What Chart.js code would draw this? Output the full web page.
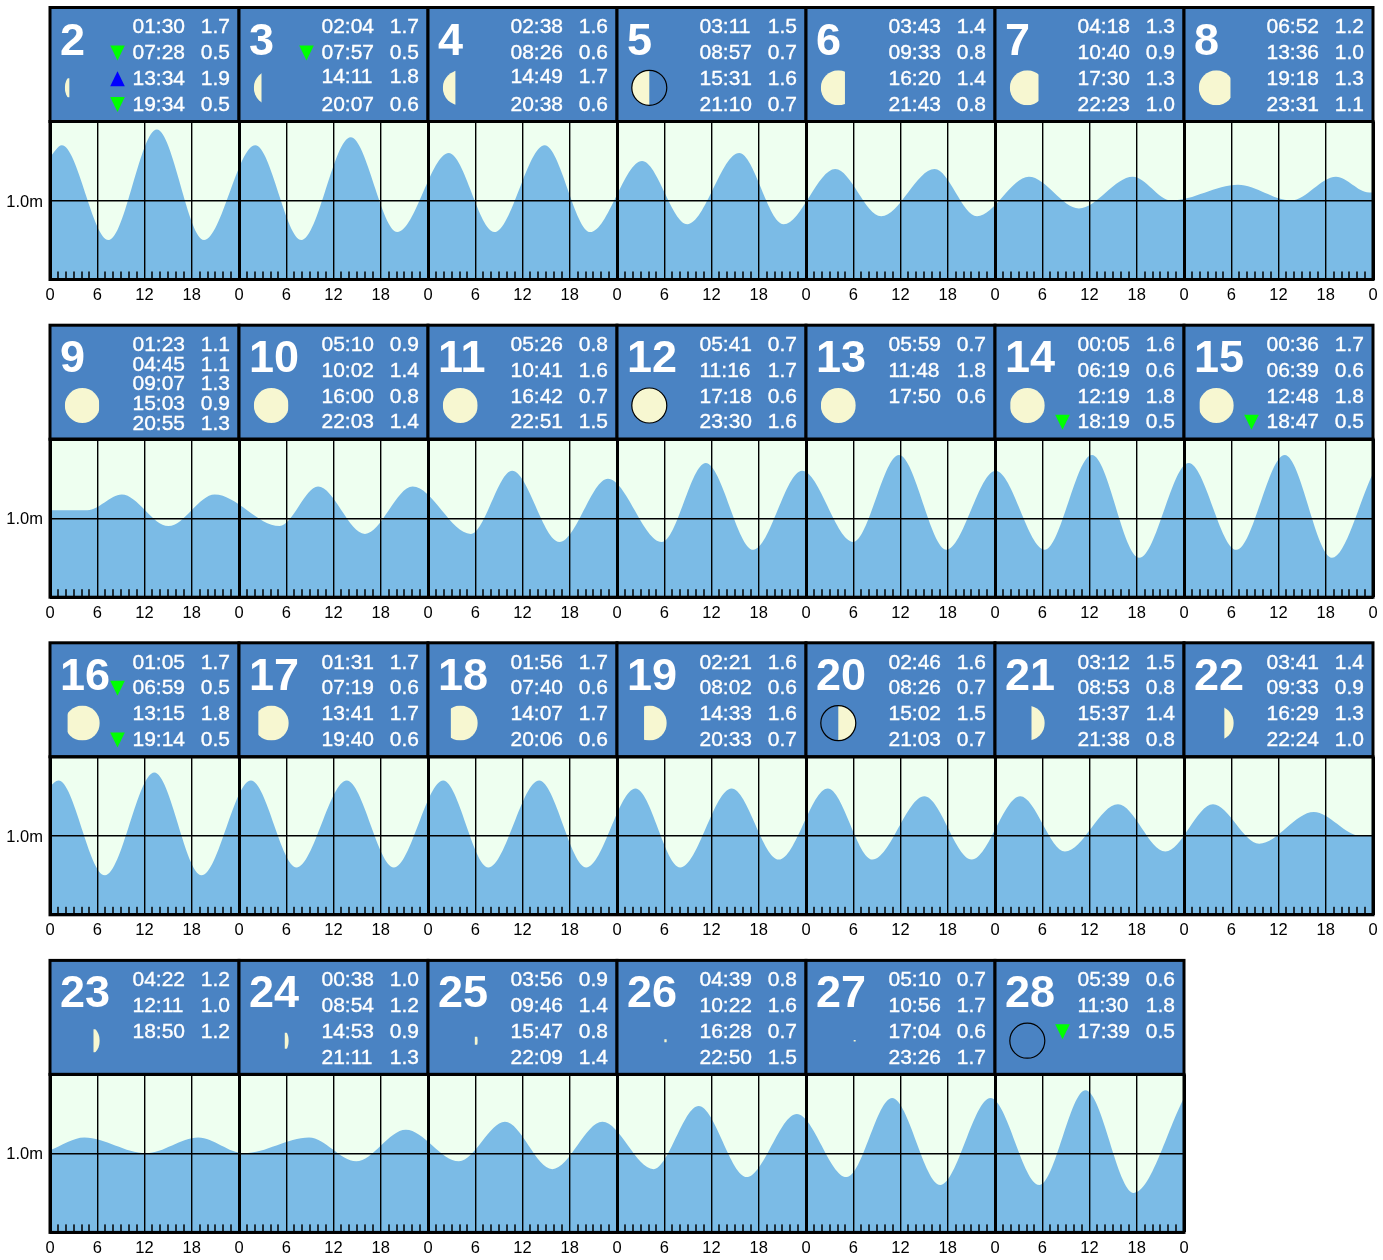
<!DOCTYPE html>
<html><head><meta charset="utf-8">
<script src="https://cdn.jsdelivr.net/npm/chart.js@4"></script>
<style>html,body{margin:0;padding:0;background:#fff}canvas{position:absolute;left:0}</style>
</head><body>
<script>
const dayNumbers=[2,3,4,5,6,7,8,9,10,11,12,13,14,15,16,17,18,19,20,21,22,23,24,25,26,27,28];
const tideTimes=[
["01:30","07:28","13:34","19:34"],["02:04","07:57","14:11","20:07"],["02:38","08:26","14:49","20:38"],
["03:11","08:57","15:31","21:10"],["03:43","09:33","16:20","21:43"],["04:18","10:40","17:30","22:23"],
["06:52","13:36","19:18","23:31"],["01:23","04:45","09:07","15:03","20:55"],["05:10","10:02","16:00","22:03"],
["05:26","10:41","16:42","22:51"],["05:41","11:16","17:18","23:30"],["05:59","11:48","17:50"],
["00:05","06:19","12:19","18:19"],["00:36","06:39","12:48","18:47"],["01:05","06:59","13:15","19:14"],
["01:31","07:19","13:41","19:40"],["01:56","07:40","14:07","20:06"],["02:21","08:02","14:33","20:33"],
["02:46","08:26","15:02","21:03"],["03:12","08:53","15:37","21:38"],["03:41","09:33","16:29","22:24"],
["04:22","12:11","18:50"],["00:38","08:54","14:53","21:11"],["03:56","09:46","15:47","22:09"],
["04:39","10:22","16:28","22:50"],["05:10","10:56","17:04","23:26"],["05:39","11:30","17:39"]];
const tideLevels=[
[1.7,0.5,1.9,0.5],[1.7,0.5,1.8,0.6],[1.6,0.6,1.7,0.6],[1.5,0.7,1.6,0.7],[1.4,0.8,1.4,0.8],[1.3,0.9,1.3,1.0],
[1.2,1.0,1.3,1.1],[1.1,1.1,1.3,0.9,1.3],[0.9,1.4,0.8,1.4],[0.8,1.6,0.7,1.5],[0.7,1.7,0.6,1.6],[0.7,1.8,0.6],
[1.6,0.6,1.8,0.5],[1.7,0.6,1.8,0.5],[1.7,0.5,1.8,0.5],[1.7,0.6,1.7,0.6],[1.7,0.6,1.7,0.6],[1.6,0.6,1.6,0.7],
[1.6,0.7,1.5,0.7],[1.5,0.8,1.4,0.8],[1.4,0.9,1.3,1.0],[1.2,1.0,1.2],[1.0,1.2,0.9,1.3],[0.9,1.4,0.8,1.4],
[0.8,1.6,0.7,1.5],[0.7,1.7,0.6,1.7],[0.6,1.8,0.5]];
const moonLit=[.13,.22,.36,.5,.69,.82,.905,.98,.985,.995,1,.995,.985,.975,.92,.87,.77,.65,.5,.38,.27,.18,.115,.085,.07,.06,0];
const moonSpan=[.54,1,1,1,1,1,1,1,1,1,1,1,1,1,1,1,1,1,1,1,1,.66,.46,.23,.09,.04,1];
const moonOutlined=[5,12,20,28];
const fullMoonDay=12;
const rowDayCounts=[7,7,7,6];
const rowStartLevels=[1.55,1.1,1.63,1.04];
const rowEndLevels=[1.1,1.57,1.0,1.7];
const tickHours=[0,6,12,18];

const WATER='#7BBBE6',SKY='#EEFFF0',HEAD='#4A83C3',MOON='#F7F7D1';
const FONT='"Liberation Sans", Arial, sans-serif';
const canvasTops=[0,318,635,953],plotTops=[121.5,121.2,121.8,121.4];
const PLOT_H=158,HEAD_H=114,CANVAS_H=310,DAY_W=189;
const nudges={"3-2":-2,"4-2":-2};

function hours(t){const [h,m]=t.split(':').map(Number);return h+m/60;}

const headerPlugin={
 id:'header',
 beforeDraw(chart){
  const {ctx,chartArea:a}=chart;
  ctx.fillStyle=SKY;ctx.fillRect(a.left,a.top,a.right-a.left,a.bottom-a.top);
 },
 afterDraw(chart,args,opts){
  const {ctx,chartArea:a}=chart,xs=chart.scales.x;
  ctx.fillStyle='#000';
  for(let h=0;h<=xs.max;h++){ if(h%6===0)continue;
    const px=Math.round(xs.getPixelForValue(h));
    ctx.fillRect(px-.75,a.bottom-8,1.5,8);
  }
  const top=a.top-HEAD_H;
  opts.days.forEach((d,i)=>{
    const x0=xs.getPixelForValue(i*24),x1=xs.getPixelForValue((i+1)*24);
    const idx=dayNumbers.indexOf(d);
    ctx.fillStyle=HEAD;ctx.fillRect(x0,top,x1-x0,HEAD_H);
    ctx.strokeStyle='#000';ctx.lineWidth=3;ctx.strokeRect(x0,top,x1-x0,HEAD_H);
    ctx.fillStyle='#fff';ctx.textBaseline='alphabetic';
    ctx.textAlign='left';ctx.font='bold 45px '+FONT;
    ctx.fillText(String(d),x0+10,top+47);
    const cx=x0+32.3,cy=top+80.3,r=17.5,lit=moonLit[idx],wax=d<=fullMoonDay;
    ctx.save();ctx.beginPath();
    const w=2*r*lit,span=2*r*moonSpan[idx];
    ctx.rect(wax?cx-r:cx+r-w,cy-span/2,w,span);ctx.clip();
    ctx.beginPath();ctx.arc(cx,cy,r,0,Math.PI*2);ctx.fillStyle=MOON;ctx.fill();ctx.restore();
    if(moonOutlined.includes(d)){ctx.beginPath();ctx.arc(cx,cy,r,0,Math.PI*2);ctx.lineWidth=1.2;ctx.strokeStyle='#000';ctx.stroke();}
    const times=tideTimes[idx],levels=tideLevels[idx],pitch=times.length>4?19.75:25.8;
    times.forEach((t,j)=>{
      const base=top+25.7+j*pitch+(nudges[d+'-'+j]||0),lv=levels[j];
      ctx.font='21px '+FONT;ctx.fillStyle='#fff';ctx.strokeStyle='#fff';ctx.lineWidth=.35;
      ctx.textAlign='left';ctx.fillText(t,x0+82.5,base);ctx.strokeText(t,x0+82.5,base);
      ctx.textAlign='right';ctx.fillText(lv.toFixed(1),x0+180,base);ctx.strokeText(lv.toFixed(1),x0+180,base);
      if(lv<=0.5||lv>=1.9){
        const c=base-6,tx=x0+67.5;ctx.beginPath();
        if(lv<=0.5){ctx.moveTo(tx-7.3,c-7.5);ctx.lineTo(tx+7.3,c-7.5);ctx.lineTo(tx,c+7.5);ctx.fillStyle='#00FF00';}
        else{ctx.moveTo(tx-7.3,c+7.5);ctx.lineTo(tx+7.3,c+7.5);ctx.lineTo(tx,c-7.5);ctx.fillStyle='#0000FF';}
        ctx.closePath();ctx.fill();
      }
    });
  });
  ctx.strokeStyle='#000';ctx.lineWidth=3;ctx.strokeRect(a.left,a.top,a.right-a.left,a.bottom-a.top);
 }
};

let first=0;
rowDayCounts.forEach((count,row)=>{
  const days=dayNumbers.slice(first,first+count);
  const pts=[{x:0,y:rowStartLevels[row]}];
  days.forEach((d,i)=>{
    const idx=first+i;
    tideTimes[idx].forEach((t,j)=>pts.push({x:i*24+hours(t),y:tideLevels[idx][j]}));
  });
  pts.push({x:count*24,y:rowEndLevels[row]});
  first+=count;

  const cv=document.createElement('canvas');
  cv.style.top=canvasTops[row]+'px';
  cv.style.width='1383px';cv.style.height=CANVAS_H+'px';cv.width=1383;cv.height=CANVAS_H;
  document.body.appendChild(cv);
  const plotTop=plotTops[row],rightEdge=50+count*DAY_W;
  new Chart(cv,{
    type:'line',
    data:{datasets:[{data:pts,fill:'start',backgroundColor:WATER,borderWidth:0,pointRadius:0,cubicInterpolationMode:'monotone'}]},
    options:{
      responsive:false,animation:false,devicePixelRatio:1,
      layout:{padding:{top:plotTop,right:1383-rightEdge,bottom:0,left:0}},
      plugins:{legend:{display:false},tooltip:{enabled:false},header:{days}},
      scales:{
        x:{type:'linear',min:0,max:count*24,
          afterFit(s){s.height=CANVAS_H-plotTop-PLOT_H;s.paddingLeft=0;s.paddingRight=0;},
          border:{display:false},
          grid:{z:1,drawTicks:false,color:'#000',
            lineWidth:c=>{const v=c.tick?c.tick.value:1;return v%24===0?3:(v%6===0?1.4:0);}},
          ticks:{stepSize:1,autoSkip:false,maxRotation:0,minRotation:0,padding:6,color:'#000',
            font:{family:'Liberation Sans',size:16.5},
            callback:v=>tickHours.includes(v%24)?String(v%24):''}},
        y:{min:0,max:2,
          afterFit(s){s.width=50;s.paddingTop=0;s.paddingBottom=0;},
          border:{display:false},
          grid:{z:1,drawTicks:false,color:'#000',lineWidth:c=>(c.tick&&c.tick.value===1)?1.4:3},
          ticks:{stepSize:1,padding:7,labelOffset:1.5,color:'#000',font:{family:'Liberation Sans',size:16.5},
            callback:v=>v===1?'1.0m':''}}
      }
    },
    plugins:[headerPlugin]
  });
});
</script>
</body></html>
